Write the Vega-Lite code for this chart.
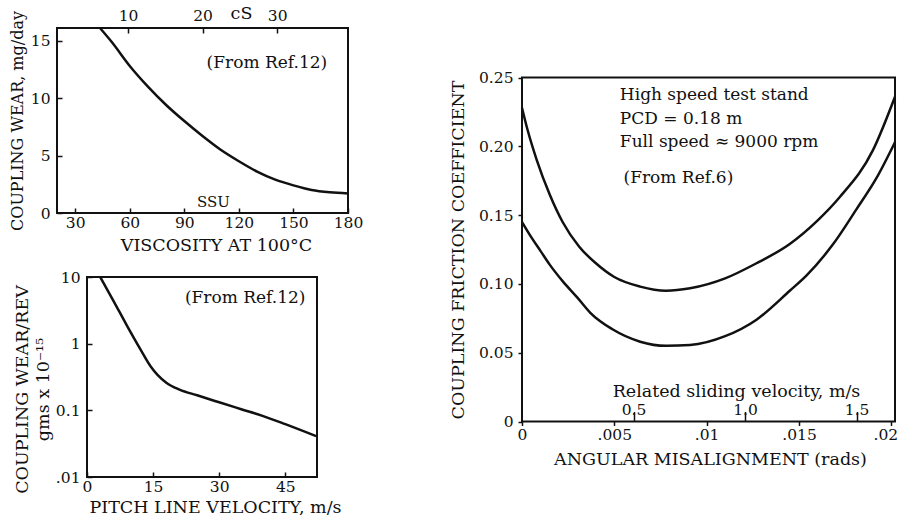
{
  "$schema": "https://vega.github.io/schema/vega-lite/v6.json",
  "width": 901,
  "height": 518,
  "autosize": "none",
  "padding": 0,
  "background": "white",
  "config": {
    "view": {"stroke": null},
    "font": "DejaVu Serif",
    "axis": {
      "labelFont": "DejaVu Serif",
      "titleFont": "DejaVu Serif",
      "labelFontSize": 15.5,
      "titleFontSize": 17.5,
      "titleFontWeight": "normal",
      "labelColor": "#111",
      "titleColor": "#111",
      "tickColor": "#111",
      "tickWidth": 1.5,
      "domain": false,
      "grid": false,
      "labelOverlap": false,
      "labelFlush": false
    },
    "text": {"font": "DejaVu Serif", "fontSize": 17, "color": "#111"}
  },
  "datasets": {
    "wear": [
      {"ssu": 43.6, "wear": 16.1}, {"ssu": 50, "wear": 14.9}, {"ssu": 60, "wear": 12.8},
      {"ssu": 70, "wear": 11.0}, {"ssu": 80, "wear": 9.4}, {"ssu": 90, "wear": 8.0},
      {"ssu": 100, "wear": 6.7}, {"ssu": 110, "wear": 5.5}, {"ssu": 120, "wear": 4.5},
      {"ssu": 130, "wear": 3.6}, {"ssu": 140, "wear": 2.9}, {"ssu": 150, "wear": 2.4},
      {"ssu": 160, "wear": 2.0}, {"ssu": 170, "wear": 1.8}, {"ssu": 180, "wear": 1.7}
    ],
    "rev": [
      {"v": 3, "w": 10}, {"v": 6, "w": 4.4}, {"v": 9, "w": 1.9}, {"v": 12, "w": 0.85},
      {"v": 14.5, "w": 0.45}, {"v": 16, "w": 0.34}, {"v": 18, "w": 0.26}, {"v": 21, "w": 0.205},
      {"v": 25, "w": 0.168}, {"v": 30, "w": 0.132}, {"v": 35, "w": 0.104}, {"v": 40, "w": 0.082},
      {"v": 45, "w": 0.062}, {"v": 52, "w": 0.041}
    ],
    "fric": [
      {"a": 0, "f": 0.228, "c": "upper"}, {"a": 0.0003, "f": 0.212, "c": "upper"},
      {"a": 0.0008, "f": 0.19, "c": "upper"}, {"a": 0.0015, "f": 0.165, "c": "upper"},
      {"a": 0.0022, "f": 0.145, "c": "upper"}, {"a": 0.0031, "f": 0.127, "c": "upper"},
      {"a": 0.004, "f": 0.115, "c": "upper"}, {"a": 0.005, "f": 0.105, "c": "upper"},
      {"a": 0.0064, "f": 0.098, "c": "upper"}, {"a": 0.0078, "f": 0.095, "c": "upper"},
      {"a": 0.0091, "f": 0.0968, "c": "upper"}, {"a": 0.011, "f": 0.104, "c": "upper"},
      {"a": 0.0127, "f": 0.115, "c": "upper"}, {"a": 0.0145, "f": 0.129, "c": "upper"},
      {"a": 0.016, "f": 0.146, "c": "upper"}, {"a": 0.0172, "f": 0.163, "c": "upper"},
      {"a": 0.019, "f": 0.197, "c": "upper"}, {"a": 0.0202, "f": 0.236, "c": "upper"},
      {"a": 0, "f": 0.145, "c": "lower"}, {"a": 0.0005, "f": 0.134, "c": "lower"},
      {"a": 0.001, "f": 0.124, "c": "lower"}, {"a": 0.0015, "f": 0.114, "c": "lower"},
      {"a": 0.0022, "f": 0.102, "c": "lower"}, {"a": 0.003, "f": 0.09, "c": "lower"},
      {"a": 0.0037, "f": 0.079, "c": "lower"}, {"a": 0.0049, "f": 0.067, "c": "lower"},
      {"a": 0.0064, "f": 0.058, "c": "lower"}, {"a": 0.0078, "f": 0.055, "c": "lower"},
      {"a": 0.0091, "f": 0.0556, "c": "lower"}, {"a": 0.011, "f": 0.062, "c": "lower"},
      {"a": 0.0127, "f": 0.074, "c": "lower"}, {"a": 0.0145, "f": 0.095, "c": "lower"},
      {"a": 0.0154, "f": 0.106, "c": "lower"}, {"a": 0.0168, "f": 0.128, "c": "lower"},
      {"a": 0.0181, "f": 0.154, "c": "lower"}, {"a": 0.0192, "f": 0.177, "c": "lower"},
      {"a": 0.0202, "f": 0.203, "c": "lower"}
    ]
  },
  "layer": [
    {
      "layer": [
        {
          "data": {"name": "wear"},
          "mark": {"type": "line", "interpolate": "monotone", "color": "#111", "strokeWidth": 2.5},
          "encoding": {
            "x": {
              "field": "ssu", "type": "quantitative",
              "scale": {"domain": [20, 180], "range": [57, 348], "nice": false, "zero": false},
              "axis": {"orient": "bottom", "offset": -305, "values": [30, 60, 90, 120, 150, 180],
                "tickSize": -5, "labelPadding": 7, "title": "VISCOSITY AT 100°C",
                "titleX": 216, "titleY": 32, "titleBaseline": "middle"}
            },
            "y": {
              "field": "wear", "type": "quantitative",
              "scale": {"domain": [0, 16.1], "range": [213, 28], "nice": false, "zero": false},
              "axis": {"orient": "left", "offset": -57, "values": [0, 5, 10, 15],
                "tickSize": -5, "labelPadding": 12, "title": "COUPLING WEAR, mg/day",
                "titleFontSize": 16,
                "titleX": -40, "titleY": 120.5, "titleBaseline": "middle"}
            }
          }
        },
        {
          "data": {"values": [{}]},
          "mark": {"type": "text", "text": "(From Ref.12)", "align": "center", "baseline": "middle"},
          "encoding": {"x": {"datum": 135.4, "type": "quantitative"}, "y": {"datum": 13.08, "type": "quantitative"}}
        },
        {
          "data": {"values": [{}]},
          "mark": {"type": "text", "text": "SSU", "align": "center", "baseline": "middle", "fontSize": 15},
          "encoding": {"x": {"datum": 106, "type": "quantitative"}, "y": {"datum": 0.95, "type": "quantitative"}}
        }
      ]
    },
    {
      "data": {"values": [{}]},
      "mark": {"type": "rect", "fill": "transparent", "stroke": "#111", "strokeWidth": 2},
      "encoding": {
        "x": {
          "datum": 0.47, "type": "quantitative",
          "scale": {"domain": [0.47, 39.5], "range": [57, 348], "nice": false, "zero": false},
          "axis": {"orient": "top", "offset": -28, "values": [10, 20, 30], "tickSize": -5,
            "labelPadding": 10, "title": "cS", "titleX": 241, "titleY": -15, "titleBaseline": "middle"}
        },
        "x2": {"datum": 39.5},
        "y": {
          "datum": 0, "type": "quantitative",
          "scale": {"domain": [0, 16.1], "range": [213, 28], "nice": false, "zero": false},
          "axis": null
        },
        "y2": {"datum": 16.1}
      }
    },
    {
      "layer": [
        {
          "data": {"name": "rev"},
          "mark": {"type": "line", "interpolate": "monotone", "color": "#111", "strokeWidth": 2.5},
          "encoding": {
            "x": {
              "field": "v", "type": "quantitative",
              "scale": {"domain": [0, 52.2], "range": [87, 317], "nice": false, "zero": false},
              "axis": {"orient": "bottom", "offset": -41, "values": [0, 15, 30, 45],
                "tickSize": -5, "labelPadding": 7, "title": "PITCH LINE VELOCITY, m/s",
                "titleX": 215, "titleY": 30, "titleBaseline": "middle"}
            },
            "y": {
              "field": "w", "type": "quantitative",
              "scale": {"type": "log", "domain": [0.01, 10], "range": [477, 277], "nice": false, "zero": false},
              "axis": {"orient": "left", "offset": -87, "values": [0.01, 0.1, 1, 10],
                "labelExpr": "datum.value == 0.01 ? '.01' : datum.value == 0.1 ? '0.1' : datum.value == 1 ? '1' : '10'",
                "tickSize": -5, "labelPadding": 12, "title": ["COUPLING WEAR/REV", "gms x 10⁻¹⁵"],
                "titleLineHeight": 21, "titleX": -65, "titleY": 389, "titleBaseline": "middle"}
            }
          }
        },
        {
          "data": {"values": [{}]},
          "mark": {"type": "text", "text": "(From Ref.12)", "align": "center", "baseline": "middle"},
          "encoding": {"x": {"datum": 35.9, "type": "quantitative"}, "y": {"datum": 4.8, "type": "quantitative"}}
        },
        {
          "data": {"values": [{}]},
          "mark": {"type": "rect", "fill": "transparent", "stroke": "#111", "strokeWidth": 2},
          "encoding": {
            "x": {"datum": 0, "type": "quantitative"}, "x2": {"datum": 52.2},
            "y": {"datum": 0.01, "type": "quantitative"}, "y2": {"datum": 10}
          }
        }
      ]
    },
    {
      "layer": [
        {
          "data": {"name": "fric"},
          "mark": {"type": "line", "interpolate": "monotone", "color": "#111", "strokeWidth": 2.5},
          "encoding": {
            "detail": {"field": "c"},
            "x": {
              "field": "a", "type": "quantitative",
              "scale": {"domain": [0, 0.0202], "range": [522, 895], "nice": false, "zero": false},
              "axis": {"orient": "bottom", "offset": -96.5, "values": [0, 0.005, 0.01, 0.015, 0.02],
                "labelExpr": "datum.value == 0 ? '0' : slice(toString(datum.value), 1)",
                "labelOffset": {"condition": {"test": "datum.value == 0.02", "value": -6}, "value": 0},
                "tickSize": 4, "labelPadding": 2, "title": "ANGULAR MISALIGNMENT (rads)",
                "titleX": 710, "titleY": 37.5, "titleBaseline": "middle"}
            },
            "y": {
              "field": "f", "type": "quantitative",
              "scale": {"domain": [0, 0.25], "range": [421.5, 77.5], "nice": false, "zero": false},
              "axis": {"orient": "left", "offset": -522, "values": [0, 0.05, 0.1, 0.15, 0.2, 0.25],
                "labelExpr": "datum.value == 0 ? '0' : format(datum.value, '.2f')",
                "tickSize": 4, "labelPadding": 5, "title": "COUPLING FRICTION COEFFICIENT",
                "titleX": -64, "titleY": 249.5, "titleBaseline": "middle"}
            }
          }
        },
        {
          "data": {"values": [{}]},
          "mark": {"type": "text", "text": "High speed test stand", "align": "left", "baseline": "middle"},
          "encoding": {"x": {"datum": 0.0053, "type": "quantitative"}, "y": {"datum": 0.2373, "type": "quantitative"}}
        },
        {
          "data": {"values": [{}]},
          "mark": {"type": "text", "text": "PCD = 0.18 m", "align": "left", "baseline": "middle"},
          "encoding": {"x": {"datum": 0.0053, "type": "quantitative"}, "y": {"datum": 0.2198, "type": "quantitative"}}
        },
        {
          "data": {"values": [{}]},
          "mark": {"type": "text", "text": "Full speed ≈ 9000 rpm", "align": "left", "baseline": "middle"},
          "encoding": {"x": {"datum": 0.0053, "type": "quantitative"}, "y": {"datum": 0.2031, "type": "quantitative"}}
        },
        {
          "data": {"values": [{}]},
          "mark": {"type": "text", "text": "(From Ref.6)", "align": "left", "baseline": "middle"},
          "encoding": {"x": {"datum": 0.0055, "type": "quantitative"}, "y": {"datum": 0.177, "type": "quantitative"}}
        }
      ]
    },
    {
      "data": {"values": [{}]},
      "mark": {"type": "rect", "fill": "transparent", "stroke": "#111", "strokeWidth": 2},
      "encoding": {
        "x": {
          "datum": 0, "type": "quantitative",
          "scale": {"domain": [0, 1.672], "range": [522, 895], "nice": false, "zero": false},
          "axis": {"orient": "top", "offset": -421.5, "values": [0.5, 1, 1.5], "format": ".1f",
            "tickSize": 10, "labelPadding": -6, "title": "Related sliding velocity, m/s",
            "titleX": 736, "titleY": -30, "titleBaseline": "middle"}
        },
        "x2": {"datum": 1.672},
        "y": {
          "datum": 0, "type": "quantitative",
          "scale": {"domain": [0, 0.25], "range": [421.5, 77.5], "nice": false, "zero": false},
          "axis": null
        },
        "y2": {"datum": 0.25}
      }
    }
  ],
  "resolve": {"scale": {"x": "independent", "y": "independent"}}
}
